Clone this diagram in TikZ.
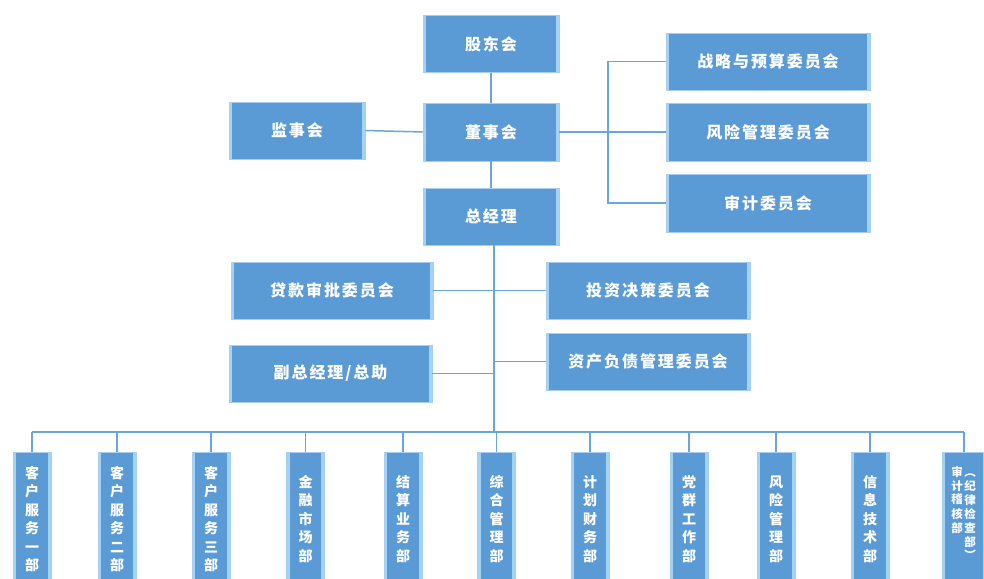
\documentclass[tikz,border=0pt]{standalone}
\usepackage{fontspec}
\newfontfamily\cjk{Noto Sans CJK SC}
\newfontfamily\cjkls{Noto Sans CJK SC}[LetterSpace=12]
\definecolor{boxblue}{HTML}{5B9BD5}
\definecolor{edgeblue}{HTML}{A9CDEE}
\definecolor{bevel}{HTML}{A2D3F7}
\definecolor{linkblue}{HTML}{6AA6DC}
\tikzset{
  orgbox/.style={fill=boxblue, draw=edgeblue, line width=0.8pt, text=white, inner sep=0pt,
    path picture={
      \fill[bevel] ([xshift=0.5pt]path picture bounding box.south west) rectangle ([xshift=3.2pt]path picture bounding box.north west);
      \fill[bevel] ([xshift=-3.2pt]path picture bounding box.south east) rectangle ([xshift=-0.5pt]path picture bounding box.north east);
    }},
  hbox/.style={orgbox, minimum height=57pt, font=\cjkls\bfseries\fontsize{16}{18}\selectfont},
  vbox/.style={orgbox, minimum width=38pt, minimum height=134pt, align=center, font=\cjk\bfseries\fontsize{14}{18.5}\selectfont},
  link/.style={draw=linkblue, line width=1.5pt}
}
\begin{document}
\begin{tikzpicture}[x=1pt,y=-1pt]
\useasboundingbox (0,0) rectangle (984,578);
\clip (0,0) rectangle (984,578);
% top
\node[hbox, minimum width=136pt] (gd) at (491,44) {股东会};
\node[hbox, minimum width=136pt, minimum height=58pt] (dsh) at (491,132) {董事会};
\node[hbox, minimum width=136pt] (jsh) at (297,130.5) {监事会};
\node[hbox, minimum width=136pt] (zjl) at (491,216.5) {总经理};
\node[hbox, minimum width=204pt] (zl) at (768,61.5) {战略与预算委员会};
\node[hbox, minimum width=204pt, minimum height=58pt] (fx) at (768,132) {风险管理委员会};
\node[hbox, minimum width=204pt, minimum height=58pt] (sj) at (768,203) {审计委员会};
% middle
\node[hbox, minimum width=202pt] (dk) at (332,290.5) {贷款审批委员会};
\node[hbox, minimum width=204pt] (tz) at (648,290.5) {投资决策委员会};
\node[hbox, minimum width=204pt] (zc) at (648,361.5) {资产负债管理委员会};
\node[hbox, minimum width=203pt] (fz) at (330.5,373.5) {副总经理/总助};
% bottom
\node[vbox] (b1) at (32,519) {客\\户\\服\\务\\一\\部};
\node[vbox] (b2) at (117,519) {客\\户\\服\\务\\二\\部};
\node[vbox] (b3) at (211,519) {客\\户\\服\\务\\三\\部};
\node[vbox] (b4) at (305.5,519) {金\\融\\市\\场\\部};
\node[vbox] (b5) at (403,519) {结\\算\\业\\务\\部};
\node[vbox] (b6) at (496.5,519) {综\\合\\管\\理\\部};
\node[vbox] (b7) at (590,519) {计\\划\\财\\务\\部};
\node[vbox] (b8) at (689,519) {党\\群\\工\\作\\部};
\node[vbox] (b9) at (776,519) {风\\险\\管\\理\\部};
\node[vbox] (b10) at (870,519) {信\\息\\技\\术\\部};
\node[vbox, minimum width=44pt] (b11) at (964,519) {};
\node[text=white, inner sep=0pt, font=\cjk\bfseries\fontsize{11.5}{13.5}\selectfont] (b11t) at (963.5,515)
  {\begin{tabular}[t]{@{}c@{}}审\\计\\稽\\核\\部\end{tabular}\hspace{1.5pt}\begin{tabular}[t]{@{}c@{}}︵\\纪\\律\\检\\查\\部\\︶\end{tabular}};
% connectors
\coordinate (br) at (608,132);
\coordinate (bus) at (494,432);
\draw[link] (gd.south) -- (dsh.north);
\draw[link] (jsh.east) -- (dsh.west);
\draw[link] (dsh.east) -- (fx.west);
\draw[link] (zl.west) -| (br) |- (sj.west);
\draw[link] (dsh.south) -- (zjl.north);
\draw[link] (zjl.south -| bus) -- (bus);
\draw[link] (dk.east) -- (dk.east -| bus);
\draw[link] (tz.west) -- (tz.west -| bus);
\draw[link] (zc.west) -- (zc.west -| bus);
\draw[link] (fz.east) -- (fz.east -| bus);
\draw[link] (b1.north |- bus) -- (b11.north |- bus);
\foreach \b in {b1,b2,b3,b4,b5,b6,b7,b8,b9,b10,b11}
  \draw[link] (\b.north) -- (\b.north |- bus);
\end{tikzpicture}
\end{document}
